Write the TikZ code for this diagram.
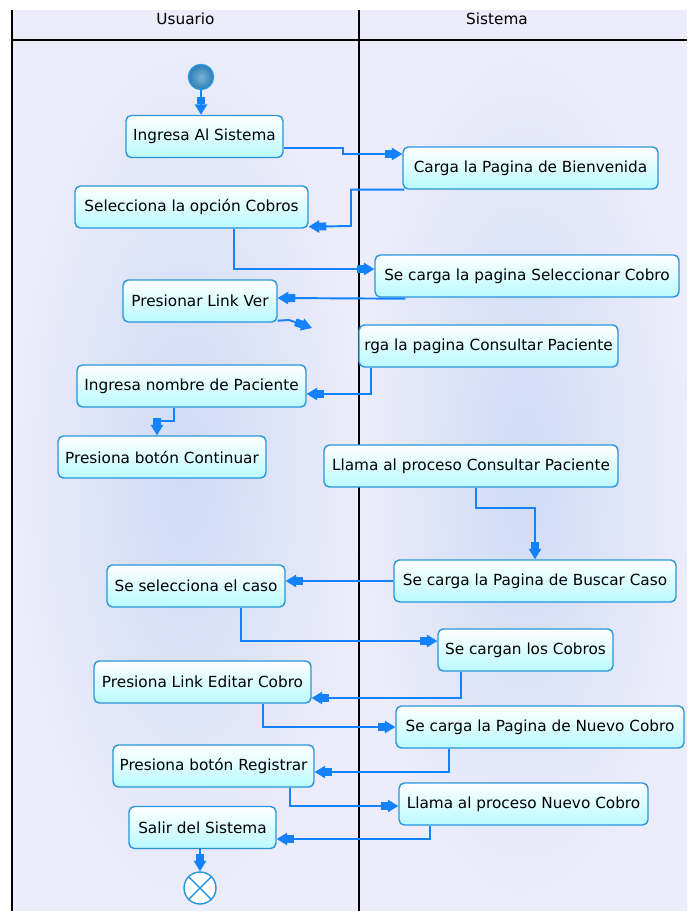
\documentclass[tikz,border=0pt]{standalone}
\usepackage{fontspec}
\setmainfont{DejaVu Sans}
\usetikzlibrary{arrows.meta,calc}
\definecolor{flowBlue}{RGB}{20,130,255}
\definecolor{boxLine}{RGB}{40,150,215}
\definecolor{boxCyan}{RGB}{185,250,255}
\definecolor{laneBg}{RGB}{236,236,250}
\definecolor{laneMid}{RGB}{206,219,246}
\definecolor{startIn}{RGB}{120,180,215}
\definecolor{startOut}{RGB}{45,125,180}

\begin{document}
\begin{tikzpicture}[x=0.02cm,y=-0.02cm,font=\fontsize{8.7}{10}\selectfont,
  act/.style={draw=boxLine,line width=0.8pt,top color=white,bottom color=boxCyan,rounded corners=3pt,minimum height=0.84cm,inner sep=2pt},
  ini/.style={circle,draw=boxLine,line width=0.8pt,inner color=startIn,outer color=startOut,minimum size=0.5cm,inner sep=0pt},
  fin/.style={circle,draw=boxLine,line width=0.8pt,fill=white,minimum size=0.64cm,inner sep=0pt},
  lane/.style={draw=black,line width=1pt},
  flow/.style={draw=flowBlue,line width=1.1pt,-{Rectangle[length=4pt,width=4.5pt,sep=0pt]Triangle[length=6pt,width=7pt]}}]
  \useasboundingbox (0,0) rectangle (687,911);
  \fill[laneBg] (12,10) rectangle (687,40);
  \shade[inner color=laneMid,outer color=laneBg] (12,40) rectangle (359,911);
  \shade[inner color=laneMid,outer color=laneBg] (359,40) rectangle (687,911);
  \draw[lane] (12,10) -- (12,911);
  \draw[lane] (359,10) -- (359,911);
  \draw[lane] (12,40) -- (687,40);
  \node (hu) at (185.5,19) {Usuario};
  \node (hs) at (497,19) {Sistema};

  \node[ini] (st) at (201,77) {};
  \node[act,minimum width=3.14cm] (ias) at (204.5,136.5) {Ingresa Al Sistema};
  \node[act,minimum width=5.1cm] (cbw) at (530.5,168) {Carga la Pagina de Bienvenida};
  \node[act,minimum width=4.66cm] (selc) at (191.5,207) {Selecciona la opción Cobros};
  \node[act,minimum width=6.08cm] (scs) at (527,276) {Se carga la pagina Seleccionar Cobro};
  \node[act,minimum width=3.08cm] (plv) at (200,301) {Presionar Link Ver};
  \node[act,minimum width=5.18cm] (cpb) at (488.5,346) {rga la pagina Consultar Paciente};
  \node[act,minimum width=4.58cm] (inp) at (191.5,386) {Ingresa nombre de Paciente};
  \node[act,minimum width=4.16cm] (pbc) at (162,457) {Presiona botón Continuar};
  \node[act,minimum width=5.88cm] (lcp) at (471,466) {Llama al proceso Consultar Paciente};
  \node[act,minimum width=5.64cm] (bc) at (535,581) {Se carga la Pagina de Buscar Caso};
  \node[act,minimum width=3.56cm] (ssc) at (196,586) {Se selecciona el caso};
  \node[act,minimum width=3.5cm] (scc) at (525.5,650) {Se cargan los Cobros};
  \node[act,minimum width=4.34cm] (ple) at (202.5,682) {Presiona Link Editar Cobro};
  \node[act,minimum width=5.76cm] (snc) at (540,727) {Se carga la Pagina de Nuevo Cobro};
  \node[act,minimum width=4.02cm] (pbr) at (213.5,766) {Presiona botón Registrar};
  \node[act,minimum width=4.98cm] (lnc) at (523.5,804) {Llama al proceso Nuevo Cobro};
  \node[act,minimum width=2.94cm] (salir) at (202.5,827.5) {Salir del Sistema};
  \node[fin] (fn) at (200,888) {};
  \draw[boxLine,line width=0.8pt] (fn.45) -- (fn.225) (fn.135) -- (fn.315);
  \coordinate (lose) at (312,328);

  \draw[flow] (st) -- (st |- ias.north);
  \draw[flow] ($(ias.east)+(0,11.5)$) -| (343,154) -- ($(cbw.west)+(0,-14)$);
  \draw[flow] ($(cbw.south west)+(2,0)$) -| (351,226) -- ($(selc.south east)+(0,-2)$);
  \draw[flow] ($(selc.south)+(42.5,0)$) |- ($(scs.west)+(0,-7)$);
  \draw[flow] ($(scs.south west)+(31,1)$) -- ($(plv.east)+(0,-3)$);
  \draw[flow] ($(plv.south east)+(0,-2)$) -- (289,320) -- (lose);
  \draw[flow] ($(cpb.south west)+(13,0)$) |- ($(inp.east)+(0,8)$);
  \draw[flow] ($(inp.south)+(-17.5,0)$) |- (157,421) -- ($(pbc.north)+(-5,0)$);
  \draw[flow] ($(lcp.south)+(5,0)$) |- (535,508) -- (bc.north);
  \draw[flow] (bc.west) -- (bc.west -| ssc.east);
  \draw[flow] ($(ssc.south)+(45,0)$) |- ($(scc.west)+(0,-9)$);
  \draw[flow] ($(scc.south west)+(24,0)$) |- ($(ple.east)+(0,16)$);
  \draw[flow] ($(ple.south)+(60.5,0)$) |- (snc.west);
  \draw[flow] ($(snc.south west)+(54,0)$) |- ($(pbr.east)+(0,6)$);
  \draw[flow] ($(pbr.south)+(76.5,0)$) |- ($(lnc.west)+(0,2)$);
  \draw[flow] ($(lnc.south west)+(32,0)$) |- ($(salir.east)+(0,11.5)$);
  \draw[flow] (salir.south -| fn) -- (fn.north);
\end{tikzpicture}
\end{document}
